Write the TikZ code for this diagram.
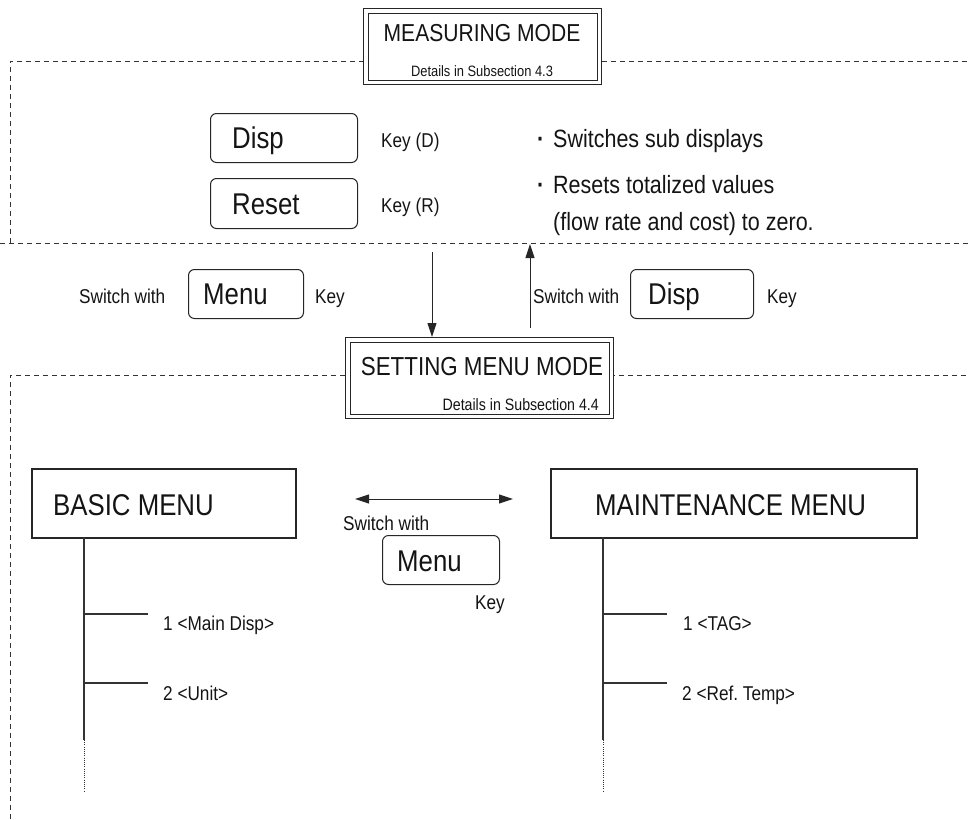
\documentclass[tikz,border=0pt]{standalone}
\usepackage{fontspec}
\setmainfont{Liberation Sans}[FakeStretch=0.86]
\usetikzlibrary{arrows.meta}
\newcommand{\fsz}[1]{\fontsize{#1}{#1}\selectfont}
\begin{document}
\begin{tikzpicture}[x=1pt,y=-1pt,
  txt/.style={inner sep=0pt, anchor=base west, text=black!92},
  keybox/.style={draw=black!85, line width=1pt, rounded corners=6pt, fill=white, anchor=north west, inner sep=0pt},
  menubox/.style={draw=black!85, line width=2.2pt, fill=white, anchor=north west, inner sep=0pt},
  dblout/.style={draw=black!85, line width=1.3pt, fill=white, anchor=north west, inner sep=0pt},
  dblin/.style={draw=black!85, line width=1.3pt, inner sep=0pt},
  region/.style={draw=black!80, line width=0.9pt, dash pattern=on 5pt off 4pt},
  conn/.style={draw=black!85, line width=1pt, -{Triangle[length=14pt,width=9pt]}},
  dconn/.style={draw=black!85, line width=1pt, {Triangle[length=14pt,width=9pt]}-{Triangle[length=14pt,width=9pt]}},
  tree/.style={draw=black!80, line width=1.1pt},
  treedot/.style={draw=black!80, line width=0.9pt, dash pattern=on 1pt off 1.2pt},
  ]
\useasboundingbox (0,0) rectangle (968,819);

% dashed regions
\draw[region] (10,243) -- (10,61) -- (968,61);
\draw[region] (0,243) -- (968,243);
\draw[region] (10,819) -- (10,375) -- (968,375);

% measuring mode box
\node[dblout, minimum width=238, minimum height=76] (meas) at (363,8) {};
\node[dblin, minimum width=229, minimum height=67] (measin) at (meas.center) {};
\node[inner sep=0pt, anchor=base, text=black!92] (meastitle) at (482,41) {\fsz{24.5}MEASURING MODE};
\node[inner sep=0pt, anchor=base, text=black!92] (measdet) at (482,76) {\fsz{15}Details in Subsection 4.3};

% keys in measuring mode
\node[keybox, minimum width=147, minimum height=49] (kdisp) at (210,113) {};
\node[txt] (kdispt) at (232,148) {\fsz{30}Disp};
\node[keybox, minimum width=147, minimum height=50] (kreset) at (210,178) {};
\node[txt] (kresett) at (232,214) {\fsz{30}Reset};
\node[txt] (keyd) at (381,147) {\fsz{20}Key (D)};
\node[txt] (keyr) at (381,212) {\fsz{20}Key (R)};
\node[txt] (b1) at (537,147) {\fsz{25}\bfseries ·};
\node[txt] (d1) at (553,147) {\fsz{25}Switches sub displays};
\node[txt] (b2) at (537,193) {\fsz{25}\bfseries ·};
\node[txt] (d2) at (553,193) {\fsz{25}Resets totalized values};
\node[txt] (d3) at (553,230) {\fsz{25}(flow rate and cost) to zero.};

% switch between modes
\node[txt] (sw1) at (79,303) {\fsz{20}Switch with};
\node[keybox, minimum width=115, minimum height=49] (kmenu1) at (188,269) {};
\node[txt] (kmenu1t) at (203,304) {\fsz{30}Menu};
\node[txt] (key1) at (315,303) {\fsz{20}Key};
\node[txt] (sw2) at (533,303) {\fsz{20}Switch with};
\node[keybox, minimum width=123, minimum height=49] (kdisp2) at (630,269) {};
\node[txt] (kdisp2t) at (648,304) {\fsz{30}Disp};
\node[txt] (key2) at (767,303) {\fsz{20}Key};

% setting menu mode box
\node[dblout, minimum width=268, minimum height=81] (set) at (345,337) {};
\node[dblin, minimum width=259, minimum height=72] (setin) at (set.center) {};
\node[inner sep=0pt, anchor=base, text=black!92] (settitle) at (482,375) {\fsz{26}SETTING MENU MODE};
\node[inner sep=0pt, anchor=base east, text=black!92] (setdet) at (599,410) {\fsz{16.5}Details in Subsection 4.4};

% arrows between modes
\coordinate (downA) at (432,252);
\coordinate (downB) at (432,337);
\coordinate (upA) at (530,328);
\coordinate (upB) at (530,244);
\draw[conn] (downA) -- (downB);
\draw[conn] (upA) -- (upB);

% menus
\node[menubox, minimum width=264, minimum height=69] (basic) at (31,468) {};
\node[txt] (basict) at (53,515) {\fsz{30}BASIC MENU};
\node[menubox, minimum width=366, minimum height=69] (maint) at (550,468) {};
\node[txt] (maintt) at (595,515) {\fsz{30}MAINTENANCE MENU};

\coordinate (dl) at (355,499);
\coordinate (dr) at (513,499);
\draw[dconn] (dl) -- (dr);
\node[txt] (sw3) at (343,530) {\fsz{20}Switch with};
\node[keybox, minimum width=117, minimum height=49] (kmenu2) at (382,535) {};
\node[txt] (kmenu2t) at (397,571) {\fsz{30}Menu};
\node[txt] (key3) at (475,609) {\fsz{20}Key};

% basic tree
\coordinate (bT) at (84,537);
\coordinate (bS) at (84,740);
\coordinate (bE) at (84,792);
\coordinate (bb1) at (84,614);
\coordinate (bb1e) at (148,614);
\coordinate (bb2) at (84,683);
\coordinate (bb2e) at (148,683);
\draw[tree] (bT) -- (bS);
\draw[treedot] (bS) -- (bE);
\draw[tree] (bb1) -- (bb1e);
\draw[tree] (bb2) -- (bb2e);
\node[txt] (bl1) at (163,630) {\fsz{20}1 <Main Disp>};
\node[txt] (bl2) at (163,700) {\fsz{20}2 <Unit>};

% maintenance tree
\coordinate (mT) at (603,537);
\coordinate (mS) at (603,740);
\coordinate (mE) at (603,792);
\coordinate (mm1) at (603,614);
\coordinate (mm1e) at (667,614);
\coordinate (mm2) at (603,683);
\coordinate (mm2e) at (667,683);
\draw[tree] (mT) -- (mS);
\draw[treedot] (mS) -- (mE);
\draw[tree] (mm1) -- (mm1e);
\draw[tree] (mm2) -- (mm2e);
\node[txt] (ml1) at (683,630) {\fsz{20}1 <TAG>};
\node[txt] (ml2) at (682,700) {\fsz{20}2 <Ref.\ Temp>};
\end{tikzpicture}
\end{document}
